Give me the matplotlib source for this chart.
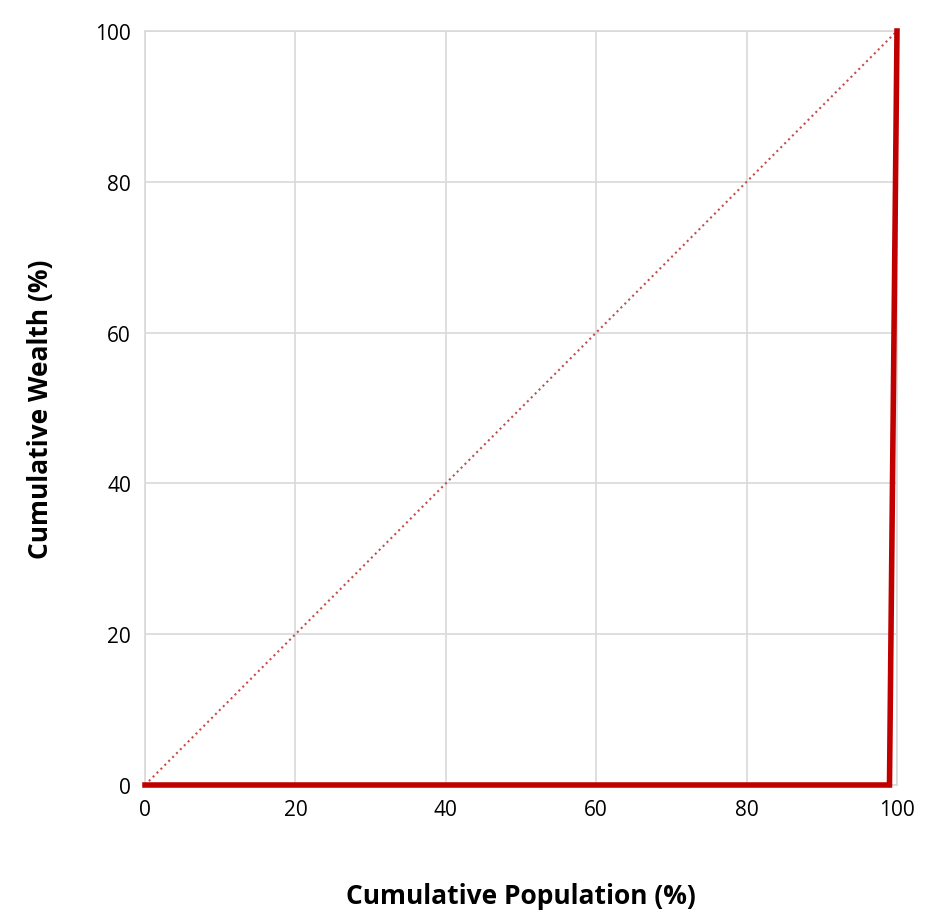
import matplotlib
matplotlib.use("Agg")
import matplotlib.pyplot as plt

plt.rcParams["font.family"] = "Open Sans"

# Lorenz curve points (cumulative %)
population = [0, 99, 100]
wealth = [0, 0, 100]
equality_x = [0, 100]
equality_y = [0, 100]
ticks = [0, 20, 40, 60, 80, 100]

fig = plt.figure(figsize=(9.48, 9.2), dpi=100)
ax = fig.add_axes([145 / 948, 1 - 786 / 920, 752 / 948, 754 / 920])

ax.plot(equality_x, equality_y, color="#c0504d", linestyle=":", linewidth=1.5, zorder=2)
ax.plot(population, wealth, color="#c00000", linewidth=4, solid_joinstyle="miter", zorder=3, clip_on=False)

ax.set_xlim(0, 100)
ax.set_ylim(0, 100)
ax.set_xticks(ticks)
ax.set_yticks(ticks)
ax.grid(True, color="#d9d9d9", linewidth=1.2, zorder=0)
ax.set_axisbelow(True)
for s in ax.spines.values():
    s.set_color("#d9d9d9")
    s.set_linewidth(1.2)
ax.tick_params(length=0, labelsize=15, pad=10)
ax.set_xlabel("Cumulative Population (%)", fontsize=19, fontweight="bold", labelpad=45)
ax.set_ylabel("Cumulative Wealth (%)", fontsize=19, fontweight="bold", labelpad=30)

fig.savefig("out.png", dpi=100)
